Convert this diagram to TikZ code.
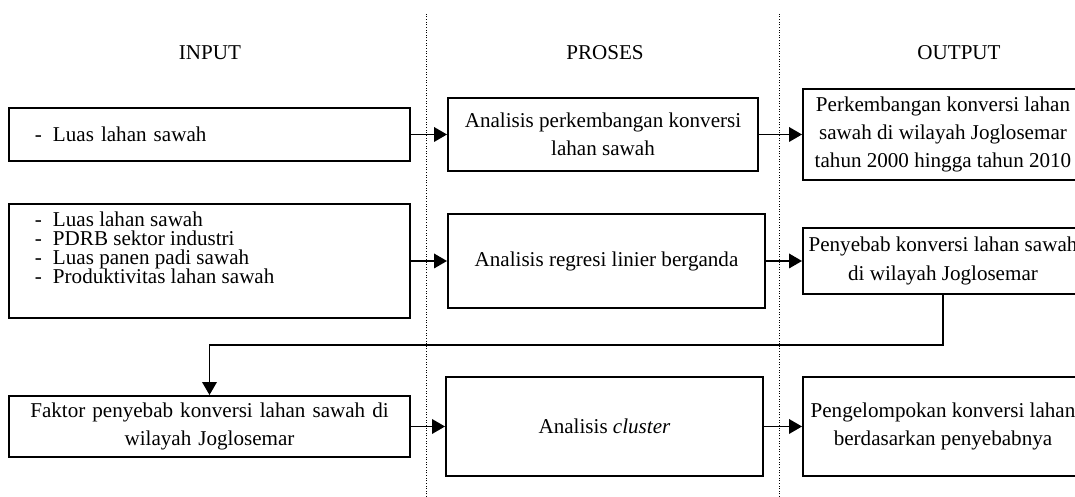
\documentclass[tikz,border=0pt]{standalone}
\usepackage{fontspec}
\setmainfont{Liberation Serif}
\usetikzlibrary{arrows.meta}

\newcommand{\itm}[1]{\hspace*{0.52cm}\makebox[0.36cm][l]{-}#1}

\begin{document}
\begin{tikzpicture}[
		box/.style={draw, line width=1.1pt, inner sep=0pt, align=center, font=\fontsize{12}{16}\selectfont},
		arr/.style={line width=1.1pt, -{Triangle[length=0.26cm, width=0.29cm]}},
		lane/.style={densely dotted, line width=0.5pt},
		head/.style={font=\fontsize{12}{14}\selectfont}
	]
		\clip (0, 0) rectangle (21.5, 9.94);
		
		\draw[lane] (8.52, 0) -- (8.52, 9.68);
		\draw[lane] (15.58, 0) -- (15.58, 9.68);
		
		\node[head] (hin) at (4.2, 8.89) {INPUT};
		\node[head] (hpro) at (12.1, 8.89) {PROSES};
		\node[head] (hout) at (19.18, 8.89) {OUTPUT};
		
		% input
		\node[box, text width=8.02cm, minimum height=1.06cm, align=left] (in1) at (4.19, 7.25) {\itm{Luas lahan sawah}};
		\node[box] (in2) at (4.19, 4.72) {\parbox[c][2.28cm][t]{8.02cm}{\fontsize{12}{10.8}\selectfont\lineskiplimit=-10pt
				\vspace*{0.15cm}\itm{Luas lahan sawah}\\
				\itm{PDRB sektor industri}\\
				\itm{Luas panen padi sawah}\\
				\itm{Produktivitas lahan sawah}}};
		\node[box, text width=8.02cm, minimum height=1.22cm] (in3) at (4.19, 1.41) {Faktor penyebab konversi lahan sawah di\\wilayah Joglosemar};
		
		% proses
		\node[box, minimum width=6.2cm, minimum height=1.46cm] (pr1) at (12.06, 7.25) {Analisis perkembangan konversi\\lahan sawah};
		\node[box, minimum width=6.34cm, minimum height=1.88cm] (pr2) at (12.13, 4.72) {Analisis regresi linier berganda};
		\node[box, minimum width=6.34cm, minimum height=1.98cm] (pr3) at (12.09, 1.41) {Analisis \textit{cluster}};
		
		% output
		\node[box, minimum width=5.6cm, minimum height=1.82cm] (out1) at (18.86, 7.25) {Perkembangan konversi lahan\\sawah di wilayah Joglosemar\\tahun 2000 hingga tahun 2010};
		\node[box, minimum width=5.6cm, minimum height=1.32cm] (out2) at (18.86, 4.72) {Penyebab konversi lahan sawah\\di wilayah Joglosemar};
		\node[box, minimum width=5.6cm, minimum height=1.98cm] (out3) at (18.86, 1.41) {Pengelompokan konversi lahan\\berdasarkan penyebabnya};
		
		\draw[arr] (in1) -- (pr1);
		\draw[arr] (pr1) -- (out1);
		\draw[arr] (in2) -- (pr2);
		\draw[arr] (pr2) -- (out2);
		\draw[arr] (in3) -- (pr3);
		\draw[arr] (pr3) -- (out3);
		
		\coordinate (bend) at (10, 3.04);
		\draw[arr] (out2.south) |- (bend) -| (in3.north);
	\end{tikzpicture}
\end{document}
